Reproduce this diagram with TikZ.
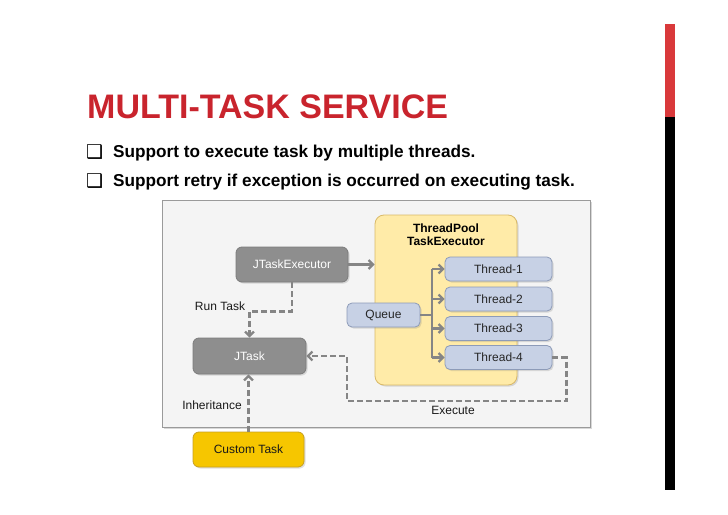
\documentclass[tikz,border=0pt]{standalone}
\usepackage{fontspec}
\setmainfont{Liberation Sans}
\newfontfamily\symfont{DejaVu Sans}
\usetikzlibrary{arrows.meta,shadows}
\definecolor{titlered}{HTML}{C9242D}
\definecolor{barred}{HTML}{D9393B}
\definecolor{gboxfill}{HTML}{8E8E8E}
\definecolor{gboxdraw}{HTML}{7C7C7C}
\definecolor{thfill}{HTML}{C7D1E5}
\definecolor{thdraw}{HTML}{8D9BB8}
\definecolor{poolfill}{HTML}{FFEBA8}
\definecolor{pooldraw}{HTML}{D9B968}
\definecolor{custfill}{HTML}{F6C600}
\definecolor{custdraw}{HTML}{C8A020}
\definecolor{connc}{HTML}{858585}
\definecolor{framefill}{HTML}{F4F4F4}
\definecolor{framedraw}{HTML}{9A9A9A}
\tikzset{
  shad/.style={drop shadow={shadow xshift=1.5pt,shadow yshift=-1.5pt,opacity=0.25}},
  gbox/.style={rectangle,rounded corners=6pt,fill=gboxfill,draw=gboxdraw,line width=0.8pt,text=white,font=\fontsize{12}{14}\selectfont,shad},
  thbox/.style={rectangle,rounded corners=5pt,fill=thfill,draw=thdraw,line width=0.8pt,text=black!85,font=\fontsize{12}{14}\selectfont,minimum width=107pt,minimum height=24pt,shad},
  conn/.style={draw=connc,line width=2.2pt},
  dconn/.style={draw=connc,line width=2.2pt,dash pattern=on 6pt off 3pt},
  tip/.style={-{Straight Barb[length=4.5pt,width=9pt]}},
  lbl/.style={font=\fontsize{12}{14}\selectfont,text=black!90,inner sep=1pt}
}
\begin{document}
\begin{tikzpicture}[x=1pt,y=1pt]
\useasboundingbox[fill=white] (0,0) rectangle (728,-514);
% side bar
\fill[barred] (665,-24) rectangle (675,-117);
\fill[black] (665,-117) rectangle (675,-490);
% title and bullets
\node[anchor=base west,inner sep=0pt,text=titlered,font=\fontsize{34}{38}\selectfont\bfseries] (title) at (87,-118) {MULTI-TASK SERVICE};
\node[anchor=base west,inner sep=0pt,font=\symfont\fontsize{19}{21}\selectfont\bfseries] (b1) at (86,-158) {❑};
\node[anchor=base west,inner sep=0pt,font=\fontsize{17.2}{20}\selectfont\bfseries] (t1) at (113,-157) {Support to execute task by multiple threads.};
\node[anchor=base west,inner sep=0pt,font=\symfont\fontsize{19}{21}\selectfont\bfseries] (b2) at (86,-187) {❑};
\node[anchor=base west,inner sep=0pt,font=\fontsize{17.2}{20}\selectfont\bfseries] (t2) at (113,-186) {Support retry if exception is occurred on executing task.};
% frame
\node[rectangle,fill=framefill,draw=framedraw,line width=0.8pt,minimum width=428pt,minimum height=227pt,drop shadow={shadow xshift=1.5pt,shadow yshift=-1.5pt,opacity=0.3}] (frame) at (376,-313.5) {};
% thread pool
\node[rectangle,rounded corners=9pt,fill=poolfill,draw=pooldraw,line width=0.8pt,minimum width=142pt,minimum height=170pt,shad] (pool) at (446,-300) {};
\node[align=center,inner sep=0pt,font=\fontsize{12}{13}\selectfont\bfseries] (pooltitle) at (446,-235) {ThreadPool\\TaskExecutor};
% threads
\node[thbox] (th1) at (498.5,-269) {Thread-1};
\node[thbox] (th2) at (498.5,-299) {Thread-2};
\node[thbox] (th3) at (498.5,-328.5) {Thread-3};
\node[thbox] (th4) at (498.5,-357.5) {Thread-4};
\node[thbox,minimum width=73pt] (queue) at (383.5,-315) {Queue};
% gray boxes
\node[gbox,minimum width=112pt,minimum height=35pt] (exec) at (292,-264.5) {JTaskExecutor};
\node[gbox,minimum width=113pt,minimum height=36pt] (jtask) at (249.5,-356) {JTask};
\node[gbox,fill=custfill,draw=custdraw,text=black!90,minimum width=111pt,minimum height=35pt] (custom) at (248.5,-449.5) {Custom Task};
% connectors
\draw[conn,tip] (exec.east) -- (exec.east -| pool.west);
\coordinate (br) at (432,-315);
\draw[conn] (queue.east) -- (br);
\draw[conn] (br |- th1.west) -- (br |- th4.west);
\draw[conn,tip] (br |- th1.west) -- (th1.west);
\draw[conn,tip] (br |- th2.west) -- (th2.west);
\draw[conn,tip] (br |- th3.west) -- (th3.west);
\draw[conn,tip] (br |- th4.west) -- (th4.west);
\draw[dconn,tip] (exec.south) -- ++(0,-29) -| (jtask.north);
\draw[dconn,tip] (th4.east) -- ++(14,0) |- (347,-401) |- (jtask.east);
\draw[dconn,tip] (custom.north) -- (custom.north |- jtask.south);
% labels
\node[lbl,anchor=base] (lrun) at (220,-310) {Run Task};
\node[lbl,anchor=base] (linh) at (212,-409) {Inheritance};
\node[lbl,anchor=base] (lexe) at (453,-414) {Execute};
\end{tikzpicture}
\end{document}
